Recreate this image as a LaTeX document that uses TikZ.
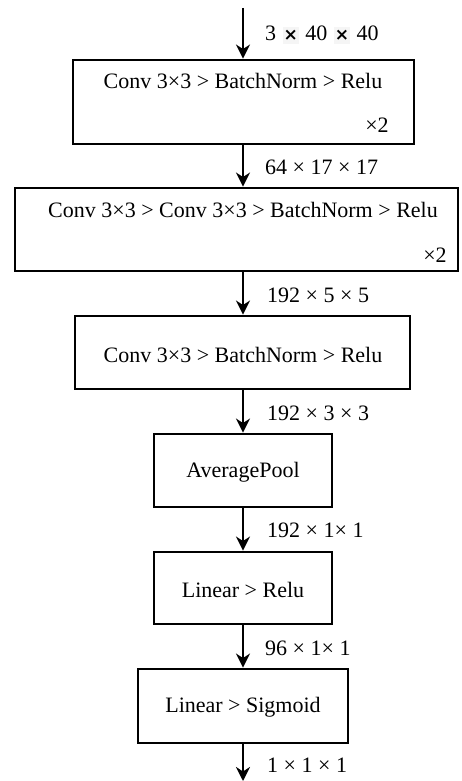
\documentclass[tikz,border=0pt]{standalone}
\usepackage{fontspec}
\setmainfont{Liberation Serif}
\newfontfamily\symfont{DejaVu Sans}
\usetikzlibrary{arrows.meta}
\tikzset{
  blk/.style={draw=black, line width=2.9pt, rectangle, inner sep=0pt},
  txt/.style={font=\fontsize{22}{26}\selectfont, inner sep=0pt, anchor=center},
  dim/.style={font=\fontsize{22}{26}\selectfont, inner sep=0pt, anchor=west},
  arr/.style={line width=2.4pt, -{Stealth[length=14pt, width=14pt, inset=4.5pt]}}
}
\newcommand{\bx}{{\symfont\bfseries\fontsize{17}{20}\selectfont\kern1pt\colorbox{black!4}{\kern-2pt×\kern-2pt}\kern1pt}}
\begin{document}
\begin{tikzpicture}[x=1pt,y=-1pt]
\useasboundingbox (0,0) rectangle (461,781);
% boxes
\node[blk, minimum width=341pt, minimum height=84pt] (b1) at (243.5,102) {};
\node[blk, minimum width=443pt, minimum height=83pt] (b2) at (236.5,229.5) {};
\node[blk, minimum width=335pt, minimum height=73pt] (b3) at (242.5,352.5) {};
\node[blk, minimum width=178pt, minimum height=73pt] (b4) at (243,470.5) {};
\node[blk, minimum width=178pt, minimum height=72pt] (b5) at (243,588) {};
\node[blk, minimum width=210pt, minimum height=74pt] (b6) at (243,706) {};
% box texts
\node[txt] (t1) at (243,81) {Conv 3×3 > BatchNorm > Relu};
\node[txt] (r1) at (377,125) {×2};
\node[txt] (t2) at (243,210) {Conv 3×3 > Conv 3×3 > BatchNorm > Relu};
\node[txt] (r2) at (435,255) {×2};
\node[txt] (t3) at (243,355) {Conv 3×3 > BatchNorm > Relu};
\node[txt] (t4) at (243,472) {AveragePool};
\node[txt] (t5) at (243,590) {Linear > Relu};
\node[txt] (t6) at (243,707) {Linear > Sigmoid};
% connectors
\coordinate (in) at (243,8);
\coordinate (out) at (243,781);
\draw[arr] (in) -- (in |- b1.north);
\draw[arr] (in |- b1.south) -- (in |- b2.north);
\draw[arr] (in |- b2.south) -- (in |- b3.north);
\draw[arr] (in |- b3.south) -- (in |- b4.north);
\draw[arr] (in |- b4.south) -- (in |- b5.north);
\draw[arr] (in |- b5.south) -- (in |- b6.north);
\draw[arr] (in |- b6.south) -- (out);
% dimension labels
\node[dim] (d0) at (265,35) {3 \bx{} 40 \bx{} 40};
\node[dim] (d1) at (265,167) {64 × 17 × 17};
\node[dim] (d2) at (267,295) {192 × 5 × 5};
\node[dim] (d3) at (267,413) {192 × 3 × 3};
\node[dim] (d4) at (267,530) {192 × 1× 1};
\node[dim] (d5) at (265,648) {96 × 1× 1};
\node[dim] (d6) at (267,765) {1 × 1 × 1};
\end{tikzpicture}
\end{document}
